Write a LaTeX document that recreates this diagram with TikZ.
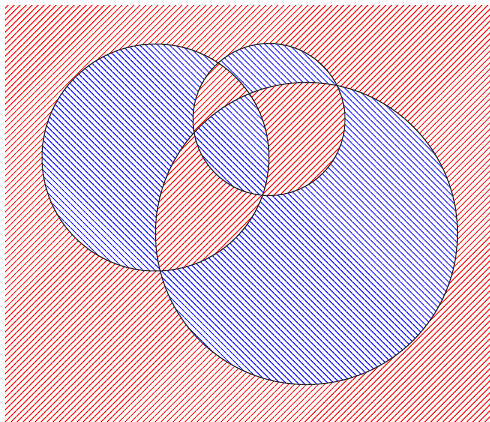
\documentclass[tikz,border=0pt]{standalone}
\usetikzlibrary{patterns.meta}

\begin{document}
\begin{tikzpicture}[x=0.5pt,y=-0.5pt,line cap=round,line join=round,
  redhatch/.style={pattern={Lines[angle=45,distance=2.12pt,line width=0.4pt]},pattern color=red},
  bluehatch/.style={pattern={Lines[angle=-45,distance=2.12pt,line width=0.4pt]},pattern color=blue},
  rim/.style={draw=black!85,line width=0.5pt}]
  \useasboundingbox (0,0) rectangle (490,421);
  \coordinate (L) at (155.5,157.5);
  \coordinate (T) at (269,119.5);
  \coordinate (R) at (306.5,233.5);
  \fill[redhatch] (5,6) rectangle (490,421);
  \fill[white,even odd rule] (L) circle (113.5) (T) circle (76) (R) circle (151);
  \fill[bluehatch,even odd rule] (L) circle (113.5) (T) circle (76) (R) circle (151);
  \draw[rim] (L) circle (113.5);
  \draw[rim] (T) circle (76);
  \draw[rim] (R) circle (151);
\end{tikzpicture}
\end{document}
